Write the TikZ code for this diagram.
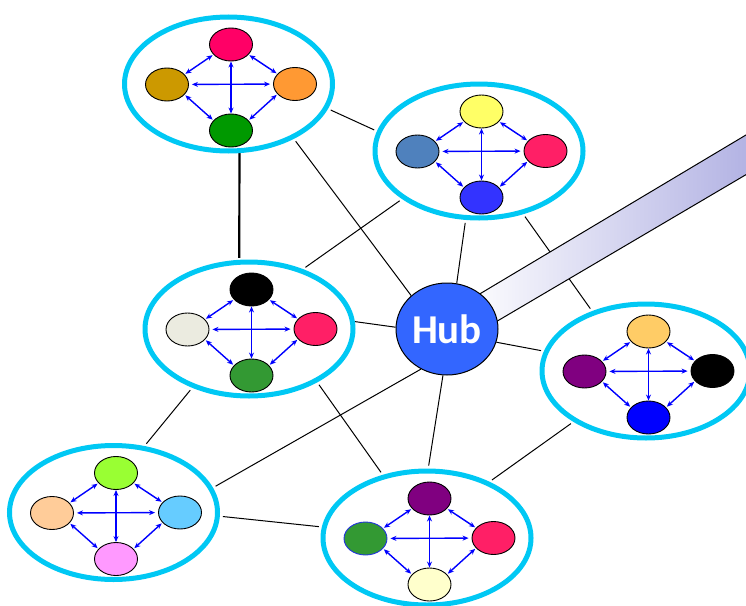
\documentclass[tikz,border=0pt]{standalone}
\usepackage{fontspec}
\newfontfamily\hubfont{Carlito}
\usetikzlibrary{shapes.geometric,arrows.meta}
\definecolor{ringc}{HTML}{00C8F4}
\definecolor{hubc}{HTML}{3366FF}
\definecolor{bandc}{RGB}{136,136,212}
\definecolor{c1t}{HTML}{FF0066}
\definecolor{c1l}{HTML}{CC9900}
\definecolor{c1r}{HTML}{FF9933}
\definecolor{c1b}{HTML}{009900}
\definecolor{c2t}{HTML}{FFFF66}
\definecolor{c2l}{HTML}{4F81BD}
\definecolor{pinkred}{HTML}{FF1F66}
\definecolor{c2b}{HTML}{3333FF}
\definecolor{c3l}{HTML}{EBEBE0}
\definecolor{grn}{HTML}{339933}
\definecolor{c4t}{HTML}{99FF33}
\definecolor{c4l}{HTML}{FFCC99}
\definecolor{c4r}{HTML}{66CCFF}
\definecolor{c4b}{HTML}{FF99FF}
\definecolor{purp}{HTML}{800080}
\definecolor{c5b}{HTML}{FFFFCC}
\definecolor{c6t}{HTML}{FFCC66}
\definecolor{c6b}{HTML}{0000FF}
\definecolor{edgeblue}{HTML}{2233DD}
\pgfdeclarehorizontalshading{bandshade}{100bp}{color(0bp)=(white); color(25bp)=(white); color(100bp)=(bandc)}
\pgfdeclarelayer{bg}
\pgfsetlayers{bg,main}
\tikzset{
  ring/.style={ellipse, draw=ringc, line width=5pt, fill=white, minimum width=208pt, minimum height=134pt, inner sep=0pt},
  dot/.style={ellipse, draw=black, line width=0.9pt, minimum width=43pt, minimum height=33pt, inner sep=0pt},
  link/.style={draw=blue, line width=1.4pt, {Stealth[length=6pt,width=5pt]}-{Stealth[length=6pt,width=5pt]}},
  conn/.style={draw=black, line width=1pt},
  gapa/.style={shorten <=3pt},
  gapb/.style={shorten >=3pt},
  hubnode/.style={ellipse, draw=black, line width=1pt, fill=hubc, minimum width=102pt, minimum height=92pt, inner sep=0pt, text=white, font={\hubfont\bfseries\fontsize{41}{41}\selectfont}},
  pics/cluster/.style args={#1/#2/#3/#4}{code={
    \node[ring] (-ring) at (0,0) {};
    \node[dot, fill=#1] (-t) at (2.5,-39.5) {};
    \node[dot, fill=#2] (-l) at (-61.5,0.5) {};
    \node[dot, fill=#3] (-r) at (66.5,0) {};
    \node[dot, fill=#4] (-b) at (2.5,46.5) {};
    \draw[link, shorten <=3pt, shorten >=3pt] (-l) -- (-r);
    \draw[link] (-t) -- (-b);
    \draw[link, shorten <=1pt, shorten >=1pt] (-t.210) -- (-l.30);
    \draw[link, shorten <=1pt, shorten >=1pt] (-t.330) -- (-r.150);
    \draw[link, shorten <=1pt, shorten >=1pt] (-b.150) -- (-l.330);
    \draw[link, shorten <=1pt, shorten >=1pt] (-b.30) -- (-r.210);
  }}
}
\begin{document}
\begin{tikzpicture}[x=1pt,y=-1pt]
\useasboundingbox (0,0) rectangle (746,605);
\pic (c1) at (228.5,84) {cluster={c1t/c1l/c1r/c1b}};
\pic (c2) at (479,151) {cluster={c2t/c2l/pinkred/c2b}};
\pic (c3) at (249,329) {cluster={black/c3l/pinkred/grn}};
\pic (c4) at (113.5,512.5) {cluster={c4t/c4l/c4r/c4b}};
\pic (c5) at (427,538) {cluster={purp/grn,draw=edgeblue/pinkred/c5b}};
\pic (c6) at (646,371) {cluster={c6t/purp/black/c6b}};
\node[hubnode] (hub) at (447,329) {Hub};
\begin{pgfonlayer}{bg}
  \draw[conn, gapa, gapb] (c1-ring.346) -- (c2-ring.169);
  \draw[conn, line width=2.2pt, shorten >=2pt] (c1-ring.279) -- (c3-ring.98);
  \draw[conn, gapa] (c1-ring.320) -- (hub.137);
  \draw[conn, gapa, gapb] (c2-ring.212) -- (c3-ring.48);
  \draw[conn, gapa] (c2-ring.259) -- (hub.78);
  \draw[conn, gapa, gapb] (c2-ring.305) -- (c6-ring.132);
  \draw[conn] (c3-ring.4) -- (hub.178);
  \draw[conn, gapa, gapb] (c3-ring.226) -- (c4-ring.65);
  \draw[conn, gapa, gapb] (c3-ring.322) -- (c5-ring.125);
  \draw[conn, gapb] (hub.237) -- (c4-ring.14);
  \draw[conn, gapb] (hub.265) -- (c5-ring.89);
  \draw[conn, gapb] (hub.345) -- (c6-ring.169);
  \draw[conn, gapa, gapb] (c4-ring.358) -- (c5-ring.174);
  \draw[conn, gapa, gapb] (c6-ring.215) -- (c5-ring.42);
  \draw[black, line width=1pt, shading=bandshade] (460,305.7) -- (760,126.6) -- (760,166.4) -- (460,343) -- cycle;
\end{pgfonlayer}
\end{tikzpicture}
\end{document}
